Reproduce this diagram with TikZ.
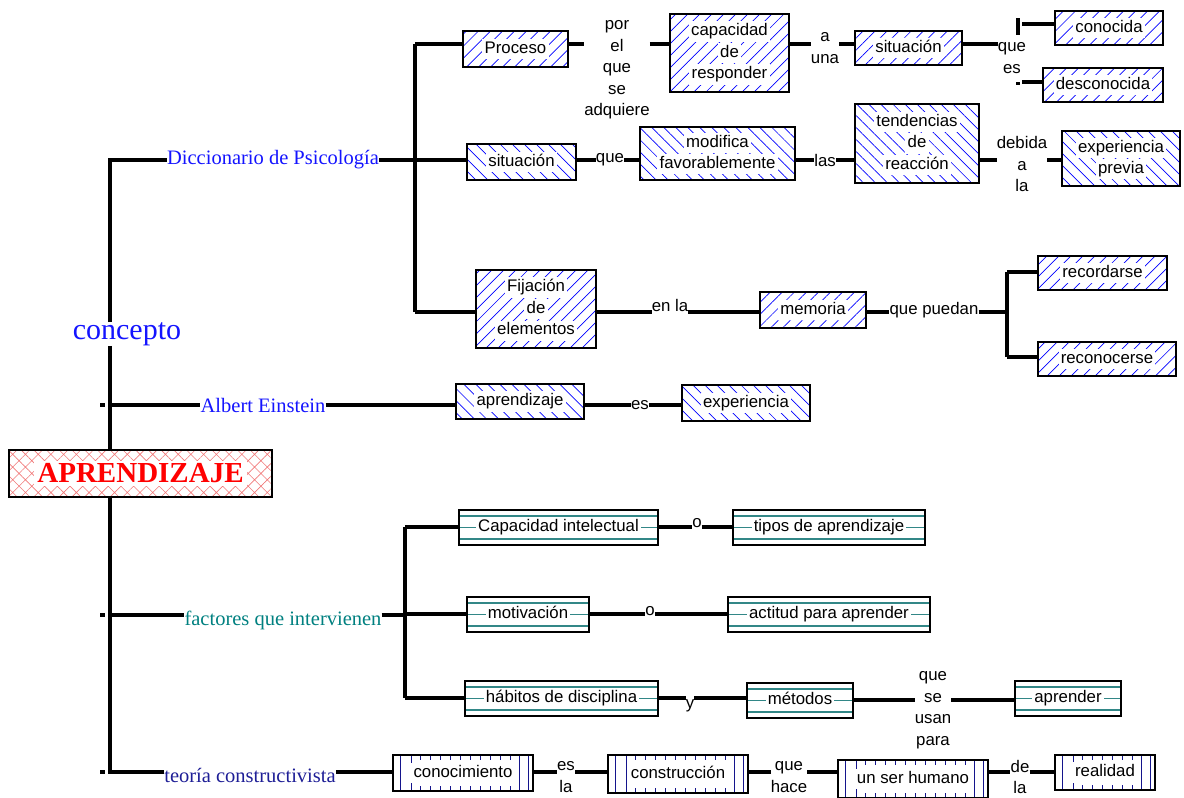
\documentclass[tikz,border=0pt]{standalone}
\usepackage{fontspec}
\setmainfont{Liberation Sans}
\newfontfamily\labserif{Liberation Serif}
\usetikzlibrary{patterns.meta}
\definecolor{hblue}{RGB}{0,0,255}
\definecolor{tealc}{RGB}{50,135,135}
\definecolor{navyc}{RGB}{20,20,140}
\definecolor{labblue}{RGB}{20,20,255}
\definecolor{labteal}{RGB}{0,128,128}
\definecolor{labnavy}{RGB}{30,30,150}
\definecolor{pinkc}{RGB}{240,120,120}
\definecolor{aprred}{RGB}{255,0,0}
\newcommand{\wb}[1]{{\setlength{\fboxsep}{2.2pt}\colorbox{white}{\vphantom{dp}#1}}}
\begin{document}
\begin{tikzpicture}[x=1pt,y=-1pt,
 every node/.style={font=\fontsize{16.8}{21.5}\selectfont, inner sep=0pt, align=center},
 conn/.style={line width=3.2pt},
 box/.style={draw=black, line width=1.4pt, rectangle},
 hatchR/.style={box, pattern={Lines[angle=45,distance=8.5pt,line width=0.7pt]}, pattern color=hblue},
 hatchL/.style={box, pattern={Lines[angle=-45,distance=8.5pt,line width=0.7pt]}, pattern color=hblue},
 tbox/.style={box, fill=white, path picture={
   \draw[tealc, line width=1.2pt] ([yshift=-6pt]path picture bounding box.north west) -- ([yshift=-6pt]path picture bounding box.north east);
   \draw[tealc, line width=1.2pt] ([yshift=6pt]path picture bounding box.south west) -- ([yshift=6pt]path picture bounding box.south east);
   \draw[tealc, line width=1.1pt] (path picture bounding box.west) -- (path picture bounding box.east);}},
 vbox/.style={box, fill=white, path picture={
   \draw[navyc, line width=0.9pt] ([xshift=7pt]path picture bounding box.south west) -- ([xshift=7pt]path picture bounding box.north west);
   \draw[navyc, line width=0.9pt] ([xshift=18pt]path picture bounding box.south west) -- ([xshift=18pt]path picture bounding box.north west);
   \draw[navyc, line width=0.9pt] ([xshift=-5pt]path picture bounding box.south east) -- ([xshift=-5pt]path picture bounding box.north east);
   \draw[navyc, line width=0.9pt] ([xshift=-14pt]path picture bounding box.south east) -- ([xshift=-14pt]path picture bounding box.north east);
   \draw[navyc, line width=5pt, dash pattern=on 0.9pt off 9.1pt] ([xshift=27pt,yshift=-2.5pt]path picture bounding box.north west) -- ([xshift=-17pt,yshift=-2.5pt]path picture bounding box.north east);
   \draw[navyc, line width=5pt, dash pattern=on 0.9pt off 9.1pt] ([xshift=27pt,yshift=2.5pt]path picture bounding box.south west) -- ([xshift=-17pt,yshift=2.5pt]path picture bounding box.south east);}},
 aprbox/.style={box, pattern={Hatch[angle=45,distance=9pt,line width=0.6pt]}, pattern color=pinkc},
 serlab/.style={font=\labserif\fontsize{20.5}{24}\selectfont}
]
\useasboundingbox (0,0) rectangle (1184,798);

% ---------- coordinates ----------
\coordinate (T) at (110,0);
\coordinate (J1) at (415,0);
\coordinate (J2) at (405,0);
\coordinate (J3) at (1007,0);
\coordinate (J4) at (1018,0);
\coordinate (J4b) at (1022,0);
\coordinate (TK) at (100,0);
\coordinate (r1) at (0,44);
\coordinate (r2) at (0,160);
\coordinate (r3) at (0,312);
\coordinate (r4) at (0,405);
\coordinate (r5) at (0,527);
\coordinate (r6) at (0,614);
\coordinate (r7) at (0,698);
\coordinate (r7b) at (0,700);
\coordinate (r8) at (0,772);
\coordinate (rf) at (0,615);
\coordinate (rc) at (0,24);
\coordinate (rct) at (0,18);
\coordinate (rcb) at (0,35);
\coordinate (rd) at (0,82);
\coordinate (rq1) at (0,272);
\coordinate (rq2) at (0,357);

% ---------- left side ----------
\node[aprbox, minimum width=263pt, minimum height=47pt] (APR) at (140.5,473.5)
  {{\setlength{\fboxsep}{3pt}\colorbox{white}{\labserif\bfseries\fontsize{29}{32}\selectfont\color{aprred}APRENDIZAJE}}};
\node[font=\labserif\fontsize{30}{34}\selectfont, text=labblue] (conc) at (127,334) {concepto};
\node[serlab, text=labblue] (dicc) at (273,160) {Diccionario de Psicología};
\node[serlab, text=labblue] (ein) at (263,405) {Albert Einstein};
\node[serlab, text=labteal] (fac) at (283,620) {factores que intervienen};
\node[serlab, text=labnavy] (teo) at (250,775) {teoría constructivista};

% ---------- row 1 ----------
\node[hatchR, minimum width=105pt, minimum height=36pt] (proc) at (515.5,49) {\wb{Proceso}};
\node (l1) at (617,70) {por\\el\\que\\se\\adquiere};
\node[hatchR, minimum width=119pt, minimum height=78pt] (cap) at (729.5,53) {\wb{capacidad}\\\wb{de}\\\wb{responder}};
\node (l2) at (825,48) {a\\una};
\node[hatchR, minimum width=107pt, minimum height=34pt] (sit1) at (908.5,48) {\wb{situación}};
\node (l3) at (1012,58) {que\\es};
\node[hatchR, minimum width=108pt, minimum height=34pt] (conoc) at (1109,28) {\wb{conocida}};
\node[hatchR, minimum width=120pt, minimum height=34pt] (desc) at (1103,85) {\wb{desconocida}};

% ---------- row 2 ----------
\node[hatchL, minimum width=109pt, minimum height=36pt] (sit2) at (521.5,162) {\wb{situación}};
\node (l4) at (610,160) {que};
\node[hatchL, minimum width=155pt, minimum height=53pt] (mod) at (717.5,153.5) {\wb{modifica}\\\wb{favorablemente}};
\node (l5) at (825,160) {las};
\node[hatchL, minimum width=124pt, minimum height=79pt] (tend) at (917,143.5) {\wb{tendencias}\\\wb{de}\\\wb{reacción}};
\node (l6) at (1022,164) {debida\\a\\la};
\node[hatchL, minimum width=118pt, minimum height=55pt] (exp2) at (1121,158.5) {\wb{experiencia}\\\wb{previa}};

% ---------- row 3 ----------
\node[hatchR, minimum width=120pt, minimum height=78pt] (fij) at (536,309) {\wb{Fijación}\\\wb{de}\\\wb{elementos}};
\node (l7) at (670,305) {en la};
\node[hatchR, minimum width=106pt, minimum height=36pt] (mem) at (813,310) {\wb{memoria}};
\node (l8) at (934,310) {que puedan};
\node[hatchR, minimum width=129pt, minimum height=34pt] (rec1) at (1102.5,273) {\wb{recordarse}};
\node[hatchR, minimum width=138pt, minimum height=34pt] (rec2) at (1107,359) {\wb{reconocerse}};

% ---------- Einstein ----------
\node[hatchL, minimum width=128pt, minimum height=35pt] (apr) at (520,401.5) {\wb{aprendizaje}};
\node (l9) at (640,405) {es};
\node[hatchL, minimum width=128pt, minimum height=36pt] (exp1) at (746,403) {\wb{experiencia}};

% ---------- factores ----------
\node[tbox, minimum width=199pt, minimum height=35pt] (cap2) at (558.5,527.5) {\wb{Capacidad intelectual}};
\node (o1) at (697,523) {o};
\node[tbox, minimum width=192pt, minimum height=35pt] (tipos) at (829,527.5) {\wb{tipos de aprendizaje}};
\node[tbox, minimum width=122pt, minimum height=35pt] (mot) at (528,614.5) {\wb{motivación}};
\node (o2) at (650,611) {o};
\node[tbox, minimum width=202pt, minimum height=35pt] (act) at (829,614.5) {\wb{actitud para aprender}};
\node[tbox, minimum width=193pt, minimum height=35pt] (hab) at (561.5,698.5) {\wb{hábitos de disciplina}};
\node (ly) at (690,706) {y};
\node[tbox, minimum width=106pt, minimum height=35pt] (met) at (800,700.5) {\wb{métodos}};
\node (l10) at (933,710) {que\\se\\usan\\para};
\node[tbox, minimum width=106pt, minimum height=35pt] (apr2) at (1068,698.5) {\wb{aprender}};

% ---------- teoria ----------
\node[vbox, minimum width=140pt, minimum height=36pt] (con) at (463,773) {\wb{conocimiento}};
\node (l11) at (566,777) {es\\la};
\node[vbox, minimum width=140pt, minimum height=38pt] (cons) at (678,774) {\wb{construcción}};
\node (l12) at (789,777) {que\\hace};
\node[vbox, minimum width=150pt, minimum height=38pt] (ser) at (913,779) {\wb{un ser humano}};
\node (l13) at (1020,777) {de\\la};
\node[vbox, minimum width=100pt, minimum height=35pt] (real) at (1105,772.5) {\wb{realidad}};

% ---------- trunk ----------
\draw[conn] (conc.north -| T) -- (T |- r2) -- (dicc.west |- r2);
\draw[conn] (conc.south -| T) -- (APR.north -| T);
\draw[conn] (T |- r4) -- (ein.west |- r4);
\draw[conn] (APR.south -| T) -- (T |- r8) -- (teo.west |- r8);
\draw[conn] (T |- rf) -- (fac.west |- rf);
\draw[conn] (TK |- r4) -- ++(5,0);
\draw[conn] (TK |- rf) -- ++(5,0);
\draw[conn] (TK |- r8) -- ++(5,0);

% ---------- Diccionario branch ----------
\draw[conn] (dicc.east |- r2) -- (J1 |- r2);
\draw[conn] (J1 |- r1) -- (J1 |- r3);
\draw[conn] (J1 |- r1) -- (proc.west |- r1);
\draw[conn] (J1 |- r2) -- (sit2.west |- r2);
\draw[conn] (J1 |- r3) -- (fij.west |- r3);

\draw[conn] (proc.east |- r1) -- (l1.west |- r1);
\draw[conn] (l1.east |- r1) -- (cap.west |- r1);
\draw[conn] (cap.east |- r1) -- (l2.west |- r1);
\draw[conn] (l2.east |- r1) -- (sit1.west |- r1);
\draw[conn] (sit1.east |- r1) -- (l3.west |- r1);
\draw[conn] (J4 |- rct) -- (J4 |- rcb);
\draw[conn] (J4b |- rc) -- (conoc.west |- rc);
\draw[conn] (J4 |- rd) -- ++(0,3);
\draw[conn] (J4b |- rd) -- (desc.west |- rd);

\draw[conn] (sit2.east |- r2) -- (l4.west |- r2);
\draw[conn] (l4.east |- r2) -- (mod.west |- r2);
\draw[conn] (mod.east |- r2) -- (l5.west |- r2);
\draw[conn] (l5.east |- r2) -- (tend.west |- r2);
\draw[conn] (tend.east |- r2) -- (l6.west |- r2);
\draw[conn] (l6.east |- r2) -- (exp2.west |- r2);

\draw[conn] (fij.east |- r3) -- (l7.west |- r3);
\draw[conn] (l7.east |- r3) -- (mem.west |- r3);
\draw[conn] (mem.east |- r3) -- (l8.west |- r3);
\draw[conn] (l8.east |- r3) -- (J3 |- r3);
\draw[conn] (J3 |- rq1) -- (J3 |- rq2);
\draw[conn] (J3 |- rq1) -- (rec1.west |- rq1);
\draw[conn] (J3 |- rq2) -- (rec2.west |- rq2);

% ---------- Einstein branch ----------
\draw[conn] (ein.east |- r4) -- (apr.west |- r4);
\draw[conn] (apr.east |- r4) -- (l9.west |- r4);
\draw[conn] (l9.east |- r4) -- (exp1.west |- r4);

% ---------- factores branch ----------
\draw[conn] (fac.east |- rf) -- (J2 |- rf);
\draw[conn] (J2 |- r5) -- (J2 |- r7);
\draw[conn] (J2 |- r5) -- (cap2.west |- r5);
\draw[conn] (J2 |- r6) -- (mot.west |- r6);
\draw[conn] (J2 |- r7) -- (hab.west |- r7);
\draw[conn] (cap2.east |- r5) -- (o1.west |- r5);
\draw[conn] (o1.east |- r5) -- (tipos.west |- r5);
\draw[conn] (mot.east |- r6) -- (o2.west |- r6);
\draw[conn] (o2.east |- r6) -- (act.west |- r6);
\draw[conn] (hab.east |- r7) -- (ly.west |- r7);
\draw[conn] (ly.east |- r7) -- (met.west |- r7);
\draw[conn] (met.east |- r7b) -- (l10.west |- r7b);
\draw[conn] (l10.east |- r7b) -- (apr2.west |- r7b);

% ---------- teoria branch ----------
\draw[conn] (teo.east |- r8) -- (con.west |- r8);
\draw[conn] (con.east |- r8) -- (l11.west |- r8);
\draw[conn] (l11.east |- r8) -- (cons.west |- r8);
\draw[conn] (cons.east |- r8) -- (l12.west |- r8);
\draw[conn] (l12.east |- r8) -- (ser.west |- r8);
\draw[conn] (ser.east |- r8) -- (l13.west |- r8);
\draw[conn] (l13.east |- r8) -- (real.west |- r8);
\end{tikzpicture}
\end{document}
